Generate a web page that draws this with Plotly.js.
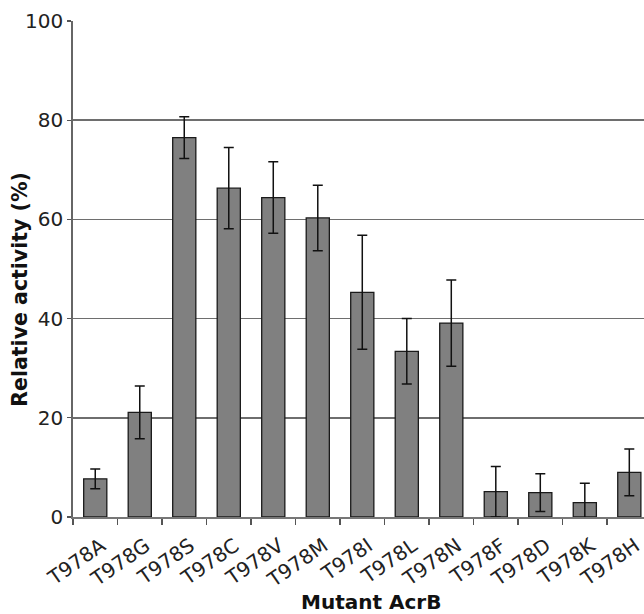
<!DOCTYPE html>
<html>
<head>
<meta charset="utf-8">
<script src="https://cdn.plot.ly/plotly-3.0.1.min.js"></script>
<style>html,body{margin:0;padding:0;background:#fff;}#chart{width:644px;height:614px;}</style>
</head>
<body>
<div id="chart"></div>
<script>
var categories = ["T978A","T978G","T978S","T978C","T978V","T978M","T978I","T978L","T978N","T978F","T978D","T978K","T978H"];
var activity = [7.7, 21.1, 76.5, 66.3, 64.4, 60.3, 45.3, 33.4, 39.1, 5.1, 4.9, 2.9, 9.0];
var errors = [2.0, 5.3, 4.2, 8.2, 7.2, 6.6, 11.5, 6.6, 8.7, 5.1, 3.8, 3.9, 4.7];
var yTicks = [0, 20, 40, 60, 80, 100];

var trace = {
  type: 'bar',
  x: categories,
  y: activity,
  width: 0.52,
  marker: {color: '#808080', line: {color: '#1a1a1a', width: 1.3}},
  error_y: {type: 'data', array: errors, visible: true, color: '#111', thickness: 1.5, width: 5},
  cliponaxis: false,
  hoverinfo: 'none'
};

var layout = {
  width: 644, height: 614,
  margin: {l: 73, r: 0, t: 21, b: 97},
  paper_bgcolor: '#fff', plot_bgcolor: '#fff',
  showlegend: false,
  font: {family: 'DejaVu Sans, Verdana, sans-serif', color: '#222'},
  xaxis: {
    type: 'category',
    range: [-0.5, 12.33],
    tickangle: -35,
    tickfont: {size: 20, color: '#222'},
    ticklabelstandoff: 8,
    ticklabelshift: 6,
    tickson: 'boundaries',
    ticks: 'outside', ticklen: 6, tickcolor: '#555', tickwidth: 1.3,
    showline: true, linecolor: '#777', linewidth: 1.5,
    showgrid: false, zeroline: false
  },
  yaxis: {
    range: [0, 100],
    tickvals: yTicks,
    ticktext: yTicks.map(String),
    tickfont: {size: 20, color: '#222'},
    ticks: 'outside', ticklen: 4, tickcolor: '#555', tickwidth: 1.3,
    showline: true, linecolor: '#666', linewidth: 1.8,
    showgrid: true, gridcolor: '#6e6e6e', gridwidth: 1.6,
    zeroline: false
  },
  annotations: [
    {text: '<b>Mutant AcrB</b>', xref: 'paper', yref: 'paper', x: 0.522, y: -0.172,
     xanchor: 'center', yanchor: 'middle', showarrow: false, font: {size: 20, color: '#111'}},
    {text: '<b>Relative activity (%)</b>', xref: 'paper', yref: 'paper', x: -0.093, y: 0.46,
     xanchor: 'center', yanchor: 'middle', textangle: -90, showarrow: false, font: {size: 20.5, color: '#111'}}
  ]
};

Plotly.newPlot('chart', [trace], layout, {staticPlot: true, displayModeBar: false});
</script>
</body>
</html>
